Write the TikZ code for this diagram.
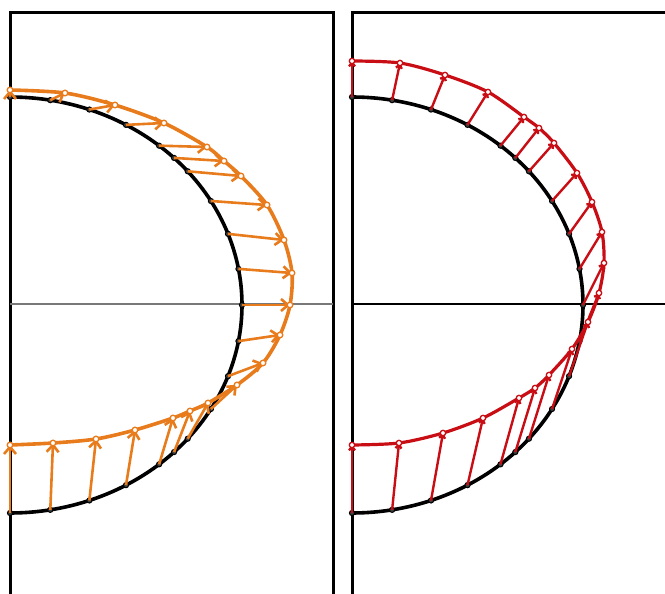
\documentclass[tikz,border=0pt]{standalone}
\usetikzlibrary{arrows.meta}
\definecolor{orng}{RGB}{232,124,28}
\definecolor{rd}{RGB}{200,14,20}
\definecolor{axgray}{RGB}{120,120,120}
\begin{document}
\begin{tikzpicture}[x=1pt,y=-1pt,
  frame/.style={line width=3pt,black},
  axisl/.style={line width=1.2pt},
  bshape/.style={line width=3.6pt,black},
  bdot/.style={line width=1pt,draw=black,fill=black!75},
  oarrow/.style={line width=2.6pt,orng,-{Straight Barb[length=7pt,width=12pt]}},
  ocurve/.style={line width=3.6pt,orng},
  otip/.style={line width=1.3pt,draw=orng,fill=white},
  rarrow/.style={line width=2.4pt,rd,-{Straight Barb[length=3.5pt,width=6pt]}},
  rcurve/.style={line width=3.2pt,rd},
  rtip/.style={line width=1.3pt,draw=rd,fill=white}]
\useasboundingbox (0,0) rectangle (665,594);
% frames
\draw[frame] (10,600) -- (10,13) -- (333,13) -- (333,600);
\draw[frame] (352,600) -- (352,13) -- (670,13);
% axis lines
\draw[axisl,axgray] (10,304) -- (333,304);
\draw[axisl,black] (352,304) -- (670,304);
% black shapes
\draw[bshape] plot[domain=0:180,samples=91,smooth] ({10+232*sin(\x)},{305-208*cos(\x)});
\draw[bshape] plot[domain=0:180,samples=91,smooth] ({352+231*sin(\x)},{305-208*cos(\x)});
% left panel
\foreach \a/\tx/\ty in {0/10/90,10/65/93,20/115/105,30/164/123,40/207/147,45/224/161,50/241/176,60/267/205,70/284/240,80/292/273,90/290/305,100/280/335,110/263/363,120/237/385,130/208/403,135/190/411,140/173/418,150/135/430,160/96/439,170/53/443,180/10/445}{
  \coordinate (Lb\a) at ({10+232*sin(\a)},{305-208*cos(\a)});
  \coordinate (Lt\a) at (\tx,\ty);
  \draw[bdot] (Lb\a) circle[radius=2.6pt];
  \draw[oarrow] (Lb\a) -- (Lt\a);
}
\draw[ocurve] plot[smooth] coordinates {(Lt0) (Lt10) (Lt20) (Lt30) (Lt40) (Lt45) (Lt50) (Lt60) (Lt70) (Lt80) (Lt90) (Lt100) (Lt110) (Lt120) (Lt130) (Lt135) (Lt140) (Lt150) (Lt160) (Lt170) (Lt180)};
\foreach \a in {0,10,20,30,40,45,50,60,70,80,90,100,110,120,130,135,140,150,160,170,180}{
  \draw[otip] (Lt\a) circle[radius=2.8pt];
}
% right panel
\foreach \a/\tx/\ty in {0/352/61,10/400/63,20/445/75,30/488/92,40/524/117,45/539/128,50/554/143,60/577/173,70/592/202,80/602/232,90/604/263,100/599/293,110/588/322,120/572/349,130/549/375,135/535/388,140/519/398,150/483/418,160/443/433,170/399/443,180/352/445}{
  \coordinate (Rb\a) at ({352+231*sin(\a)},{305-208*cos(\a)});
  \coordinate (Rt\a) at (\tx,\ty);
  \draw[bdot] (Rb\a) circle[radius=2.6pt];
  \draw[rarrow] (Rb\a) -- (Rt\a);
}
\draw[rcurve] plot[smooth] coordinates {(Rt0) (Rt10) (Rt20) (Rt30) (Rt40) (Rt45) (Rt50) (Rt60) (Rt70) (Rt80) (Rt90) (Rt100) (Rt110) (Rt120) (Rt130) (Rt135) (Rt140) (Rt150) (Rt160) (Rt170) (Rt180)};
\foreach \a in {0,10,20,30,40,45,50,60,70,80,90,100,110,120,130,135,140,150,160,170,180}{
  \draw[rtip] (Rt\a) circle[radius=2.7pt];
}
\end{tikzpicture}
\end{document}
